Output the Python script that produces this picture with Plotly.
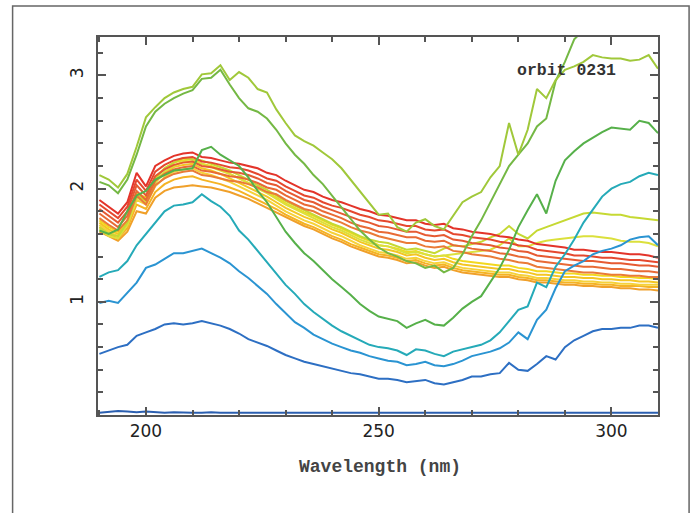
import plotly.graph_objects as go

wavelength = list(range(190, 311, 2))

# orbit 0231 spectra, every 2 nm
base_flat = [0.02,0.025,0.035,0.03,0.025,0.03,0.025,0.02,0.025,0.02,
             0.02,0.02,0.025,0.02,0.02,0.02,0.02,0.015,0.02,0.02,
             0.02,0.015,0.02,0.02,0.02,0.015,0.02,0.02,0.015,0.02,
             0.02,0.02,0.015,0.02,0.02,0.02,0.015,0.02,0.02,0.02,
             0.02,0.015,0.02,0.02,0.02,0.02,0.015,0.02,0.02,0.02,
             0.02,0.02,0.015,0.02,0.02,0.02,0.02,0.015,0.02,0.02,0.02]
dark_blue = [0.54,0.57,0.60,0.62,0.70,0.73,0.76,0.80,0.81,0.80,
             0.81,0.83,0.81,0.79,0.76,0.72,0.67,0.64,0.61,0.57,
             0.53,0.50,0.47,0.45,0.43,0.41,0.39,0.37,0.36,0.34,
             0.32,0.32,0.31,0.29,0.30,0.31,0.28,0.27,0.29,0.31,
             0.34,0.34,0.36,0.37,0.46,0.40,0.39,0.45,0.52,0.49,
             0.60,0.66,0.70,0.74,0.76,0.76,0.77,0.77,0.79,0.79,0.77]
blue = [0.99,1.01,0.99,1.08,1.17,1.30,1.33,1.38,1.43,1.43,
        1.45,1.47,1.43,1.39,1.34,1.27,1.21,1.14,1.07,0.98,
        0.90,0.82,0.77,0.71,0.67,0.63,0.60,0.57,0.55,0.52,
        0.50,0.48,0.47,0.44,0.45,0.47,0.44,0.43,0.45,0.48,
        0.52,0.54,0.56,0.59,0.64,0.73,0.67,0.84,0.93,1.12,
        1.27,1.32,1.36,1.42,1.45,1.47,1.50,1.55,1.57,1.58,1.50]
teal = [1.22,1.26,1.28,1.36,1.50,1.60,1.69,1.80,1.85,1.86,
        1.88,1.95,1.89,1.84,1.76,1.63,1.55,1.45,1.36,1.25,
        1.15,1.07,0.98,0.91,0.85,0.79,0.74,0.70,0.66,0.62,
        0.60,0.59,0.57,0.53,0.58,0.57,0.54,0.52,0.56,0.58,
        0.60,0.62,0.66,0.73,0.83,0.93,0.96,1.17,1.13,1.31,
        1.42,1.55,1.70,1.81,1.93,2.00,2.04,2.06,2.11,2.14,2.12]
green = [1.63,1.60,1.64,1.80,1.94,1.98,2.08,2.12,2.16,2.17,
         2.18,2.34,2.37,2.30,2.25,2.20,2.10,1.98,1.88,1.75,
         1.62,1.52,1.43,1.36,1.28,1.20,1.13,1.06,0.98,0.92,
         0.87,0.85,0.83,0.77,0.81,0.84,0.80,0.79,0.86,0.94,
         1.00,1.05,1.18,1.30,1.46,1.66,1.81,1.95,1.78,2.07,
         2.25,2.33,2.40,2.45,2.50,2.54,2.53,2.52,2.60,2.58,2.49]
lime_upper = [2.12,2.08,2.01,2.13,2.37,2.63,2.72,2.80,2.85,2.88,
              2.90,3.01,3.02,3.09,2.96,3.03,2.98,2.88,2.85,2.70,
              2.58,2.47,2.42,2.38,2.32,2.26,2.18,2.08,1.98,1.88,
              1.77,1.78,1.66,1.62,1.70,1.73,1.67,1.64,1.76,1.88,
              1.93,1.97,2.10,2.20,2.58,2.30,2.52,2.88,2.80,2.96,
              3.05,3.08,3.12,3.18,3.16,3.15,3.15,3.13,3.14,3.18,3.06]
lime_lower = [2.06,2.03,1.96,2.08,2.30,2.55,2.68,2.75,2.80,2.84,
              2.87,2.97,2.98,3.05,2.92,2.80,2.71,2.68,2.62,2.52,
              2.40,2.30,2.22,2.12,2.04,1.94,1.83,1.73,1.63,1.55,
              1.48,1.43,1.40,1.36,1.34,1.30,1.32,1.26,1.30,1.42,
              1.58,1.72,1.88,2.05,2.20,2.30,2.40,2.55,2.62,2.95,
              3.12,3.32,3.40,3.45,3.50,3.52,3.55,3.55,3.58,3.60,3.60]
red_1 = [1.90,1.84,1.78,1.88,2.14,2.02,2.20,2.25,2.29,2.31,
         2.32,2.28,2.27,2.25,2.23,2.22,2.20,2.18,2.14,2.12,
         2.07,2.03,1.99,1.97,1.93,1.90,1.88,1.85,1.82,1.80,
         1.77,1.76,1.74,1.72,1.72,1.69,1.68,1.69,1.65,1.64,
         1.62,1.61,1.60,1.58,1.57,1.55,1.54,1.51,1.50,1.49,
         1.48,1.46,1.46,1.45,1.44,1.44,1.43,1.42,1.42,1.41,1.39]
red_2 = [1.86,1.80,1.74,1.84,2.08,1.98,2.15,2.21,2.25,2.27,
         2.28,2.24,2.23,2.21,2.19,2.18,2.16,2.13,2.09,2.07,
         2.02,1.98,1.94,1.92,1.88,1.85,1.83,1.80,1.77,1.75,
         1.72,1.71,1.69,1.67,1.67,1.64,1.63,1.64,1.60,1.59,
         1.57,1.56,1.55,1.53,1.52,1.50,1.49,1.46,1.45,1.44,
         1.43,1.41,1.41,1.40,1.39,1.39,1.38,1.37,1.37,1.36,1.35]
red_3 = [1.82,1.76,1.70,1.80,2.03,1.94,2.11,2.17,2.21,2.23,
         2.24,2.20,2.19,2.17,2.15,2.14,2.12,2.09,2.05,2.03,
         1.98,1.94,1.90,1.88,1.84,1.81,1.78,1.75,1.72,1.70,
         1.67,1.66,1.64,1.62,1.62,1.59,1.58,1.59,1.55,1.54,
         1.52,1.51,1.50,1.48,1.47,1.45,1.44,1.41,1.40,1.39,
         1.38,1.37,1.36,1.36,1.35,1.34,1.34,1.33,1.32,1.32,1.31]
red_4 = [1.78,1.72,1.66,1.76,1.98,1.90,2.07,2.13,2.17,2.19,
         2.20,2.16,2.15,2.13,2.11,2.10,2.08,2.05,2.01,1.99,
         1.94,1.90,1.86,1.84,1.80,1.77,1.74,1.70,1.67,1.65,
         1.62,1.61,1.59,1.57,1.57,1.54,1.53,1.54,1.50,1.49,
         1.47,1.46,1.45,1.43,1.42,1.40,1.39,1.36,1.35,1.34,
         1.33,1.32,1.31,1.31,1.30,1.29,1.29,1.28,1.27,1.27,1.26]
red_5 = [1.74,1.68,1.63,1.72,1.94,1.86,2.03,2.09,2.13,2.15,
         2.16,2.12,2.11,2.09,2.07,2.06,2.04,2.01,1.97,1.95,
         1.90,1.86,1.82,1.80,1.76,1.73,1.70,1.66,1.63,1.61,
         1.58,1.56,1.54,1.52,1.52,1.49,1.48,1.49,1.45,1.44,
         1.42,1.41,1.40,1.38,1.37,1.35,1.34,1.31,1.30,1.29,
         1.28,1.27,1.26,1.26,1.25,1.24,1.24,1.23,1.23,1.22,1.22]
yel_1 = [1.72,1.66,1.62,1.72,1.96,1.92,2.10,2.18,2.23,2.25,
         2.26,2.22,2.20,2.17,2.13,2.09,2.05,2.01,1.97,1.92,
         1.87,1.83,1.79,1.76,1.72,1.68,1.65,1.61,1.57,1.54,
         1.50,1.49,1.47,1.44,1.45,1.42,1.40,1.41,1.38,1.36,
         1.35,1.34,1.33,1.32,1.32,1.30,1.29,1.27,1.27,1.26,
         1.25,1.25,1.24,1.24,1.23,1.23,1.22,1.22,1.21,1.21,1.20]
yel_2 = [1.70,1.64,1.60,1.70,1.93,1.89,2.06,2.14,2.19,2.21,
         2.22,2.18,2.16,2.13,2.09,2.05,2.01,1.97,1.93,1.88,
         1.83,1.79,1.75,1.72,1.68,1.64,1.61,1.57,1.53,1.50,
         1.47,1.46,1.44,1.41,1.42,1.39,1.37,1.38,1.35,1.33,
         1.32,1.31,1.30,1.29,1.29,1.27,1.26,1.24,1.24,1.23,
         1.22,1.22,1.21,1.21,1.20,1.20,1.19,1.19,1.18,1.18,1.17]
yel_3 = [1.68,1.62,1.58,1.68,1.90,1.86,2.02,2.10,2.15,2.17,
         2.18,2.14,2.12,2.09,2.06,2.02,1.98,1.94,1.90,1.85,
         1.80,1.76,1.72,1.69,1.65,1.61,1.58,1.54,1.50,1.47,
         1.44,1.43,1.41,1.38,1.39,1.36,1.34,1.35,1.32,1.30,
         1.29,1.28,1.27,1.26,1.26,1.24,1.23,1.21,1.21,1.20,
         1.19,1.19,1.18,1.18,1.17,1.17,1.16,1.16,1.15,1.15,1.15]
orange_1 = [1.66,1.60,1.56,1.65,1.86,1.82,1.97,2.04,2.08,2.10,
            2.11,2.08,2.06,2.04,2.01,1.98,1.94,1.90,1.86,1.82,
            1.77,1.73,1.69,1.66,1.62,1.58,1.55,1.51,1.48,1.45,
            1.42,1.41,1.39,1.36,1.37,1.34,1.32,1.33,1.30,1.28,
            1.27,1.26,1.25,1.24,1.24,1.22,1.21,1.19,1.19,1.18,
            1.17,1.17,1.16,1.16,1.15,1.15,1.14,1.14,1.14,1.13,1.13]
orange_2 = [1.62,1.58,1.54,1.62,1.80,1.78,1.92,1.98,2.01,2.02,
            2.03,2.02,2.01,1.99,1.97,1.94,1.91,1.87,1.83,1.79,
            1.75,1.71,1.67,1.64,1.60,1.56,1.53,1.49,1.46,1.43,
            1.40,1.39,1.37,1.34,1.35,1.32,1.30,1.31,1.28,1.26,
            1.25,1.24,1.23,1.22,1.22,1.20,1.19,1.17,1.17,1.16,
            1.15,1.15,1.14,1.14,1.13,1.13,1.12,1.12,1.11,1.11,1.10]
yg_1 = [1.66,1.60,1.58,1.70,1.95,1.90,2.08,2.18,2.23,2.27,
        2.26,2.25,2.22,2.19,2.16,2.12,2.08,2.03,1.99,1.94,
        1.89,1.85,1.81,1.77,1.73,1.69,1.66,1.62,1.58,1.55,
        1.53,1.52,1.49,1.46,1.47,1.45,1.43,1.47,1.50,1.49,
        1.51,1.53,1.57,1.60,1.67,1.60,1.56,1.63,1.66,1.69,
        1.72,1.75,1.78,1.79,1.78,1.77,1.77,1.75,1.74,1.73,1.72]
yg_2 = [1.64,1.58,1.56,1.68,1.92,1.88,2.05,2.15,2.20,2.24,
        2.24,2.22,2.19,2.16,2.13,2.09,2.05,2.00,1.96,1.91,
        1.86,1.82,1.78,1.74,1.70,1.66,1.63,1.59,1.55,1.52,
        1.50,1.49,1.46,1.43,1.44,1.42,1.40,1.41,1.42,1.43,
        1.44,1.45,1.46,1.50,1.56,1.49,1.49,1.52,1.54,1.55,
        1.56,1.57,1.58,1.58,1.57,1.56,1.54,1.53,1.53,1.52,1.49]

series = [
    ("orange_2", orange_2, "#f0a02a"),
    ("orange_1", orange_1, "#f5b324"),
    ("yel_3", yel_3, "#f6d23a"),
    ("yel_2", yel_2, "#f4c623"),
    ("yel_1", yel_1, "#f2d81e"),
    ("yg_2", yg_2, "#dbe03c"),
    ("yg_1", yg_1, "#c6d933"),
    ("red_5", red_5, "#ea7b37"),
    ("red_4", red_4, "#e86a35"),
    ("red_3", red_3, "#e65a32"),
    ("red_2", red_2, "#e5482e"),
    ("red_1", red_1, "#e3342a"),
    ("base_flat", base_flat, "#2b5fb0"),
    ("dark_blue", dark_blue, "#2d6fc3"),
    ("blue", blue, "#2a94d2"),
    ("teal", teal, "#25aab8"),
    ("green", green, "#56b04a"),
    ("lime_lower", lime_lower, "#74b844"),
    ("lime_upper", lime_upper, "#a0c83a"),
]

fig = go.Figure()
for name, vals, col in series:
    fig.add_trace(go.Scatter(x=wavelength, y=vals, mode="lines", name=name,
                             line=dict(color=col, width=2), showlegend=False))

axis_common = dict(showline=True, linecolor="#555", linewidth=2, mirror="ticks",
                   ticks="inside", tickcolor="#555", tickwidth=1.5, ticklen=8,
                   showgrid=False, zeroline=False,
                   tickfont=dict(family="DejaVu Sans", size=17, color="#222"))

fig.update_xaxes(range=[189.7, 310], tick0=200, dtick=50,
                 minor=dict(dtick=10, tick0=200, ticks="inside", ticklen=5, tickcolor="#555", tickwidth=1.5),
                 ticklabelstandoff=0, **axis_common)
fig.update_yaxes(range=[0, 3.34], tickangle=-90,
                 tickvals=[1, 2, 3], ticktext=["1", "2", "3"],
                 minor=dict(dtick=0.2, tick0=0, ticks="inside", ticklen=5, tickcolor="#555", tickwidth=1.5),
                 ticklabelstandoff=6, **axis_common)

fig.add_annotation(x=290.3, y=3.04, xref="x", yref="y", text="<b>orbit 0231</b>", showarrow=False,
                   font=dict(family="Liberation Mono", size=16.5, color="#333"))
fig.add_annotation(x=0.5027, y=-0.1376, xref="paper", yref="paper", text="<b>Wavelength (nm)</b>",
                   showarrow=False, yanchor="middle",
                   font=dict(family="Liberation Mono", size=18, color="#444"))

fig.add_shape(type="rect", xref="paper", yref="paper", x0=-0.1525, x1=1.0555, y0=-0.3, y1=1.082,
              line=dict(color="#666", width=1.5), layer="below")

fig.update_layout(width=693, height=513, autosize=False,
                  margin=dict(l=98, r=35, t=37, b=98),
                  paper_bgcolor="white", plot_bgcolor="white", showlegend=False)

fig.write_html("out.html")
